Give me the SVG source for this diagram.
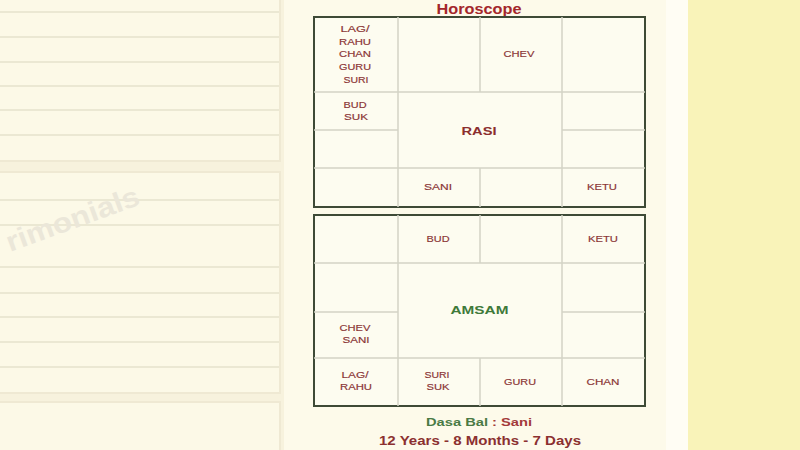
<svg xmlns="http://www.w3.org/2000/svg" width="800" height="450" viewBox="0 0 800 450">
<defs>
<style>
.card{fill:#fcf9e7;stroke:#efe9d3;stroke-width:2}
.row{stroke:#e6e2cd;stroke-width:1.5}
.frame{fill:#fdfcf0;stroke:#3e4a36;stroke-width:2}
.grid{stroke:#d3d3c6;stroke-width:1.5;fill:none}
.pl{font-family:"Liberation Sans",Arial,sans-serif;font-size:8.5px;fill:#8a3434;text-anchor:middle;stroke:#8a3434;stroke-width:0.15}
.big{font-family:"Liberation Sans",Arial,sans-serif;font-size:11px;font-weight:bold;text-anchor:middle}
.title{font-family:"Liberation Sans",Arial,sans-serif;font-size:15px;font-weight:bold;fill:#a3262b;text-anchor:middle}
.wm{font-family:"Liberation Sans",Arial,sans-serif;font-size:28px;font-weight:bold;fill:#ebe7d9}
</style>
</defs>
<rect x="0" y="0" width="800" height="450" fill="#fdfaea"/>
<rect x="666" y="0" width="24" height="450" fill="#fffdf4"/>
<rect x="688" y="0" width="112" height="450" fill="#f9f3b9"/>
<rect x="0" y="0" width="284" height="450" fill="#f7f2dd"/>

<g id="card1">
<rect class="card" x="-5" y="-5" width="285" height="166"/>
<line class="row" x1="0" y1="12" x2="279" y2="12"/>
<line class="row" x1="0" y1="37" x2="279" y2="37"/>
<line class="row" x1="0" y1="62" x2="279" y2="62"/>
<line class="row" x1="0" y1="86" x2="279" y2="86"/>
<line class="row" x1="0" y1="110" x2="279" y2="110"/>
<line class="row" x1="0" y1="135" x2="279" y2="135"/>
</g>
<g id="card2">
<rect class="card" x="-5" y="172" width="285" height="221"/>
<line class="row" x1="0" y1="200" x2="279" y2="200"/>
<line class="row" x1="0" y1="225" x2="279" y2="225"/>
<line class="row" x1="0" y1="267" x2="279" y2="267"/>
<line class="row" x1="0" y1="293" x2="279" y2="293"/>
<line class="row" x1="0" y1="317" x2="279" y2="317"/>
<line class="row" x1="0" y1="342" x2="279" y2="342"/>
<line class="row" x1="0" y1="367" x2="279" y2="367"/>
<text class="wm" x="10" y="252" transform="rotate(-20 10 252)" textLength="140" lengthAdjust="spacingAndGlyphs">rimonials</text>
</g>
<g id="card3">
<rect class="card" x="-5" y="402" width="285" height="60"/>
</g>

<text id="title" class="title" x="479" y="13.5" textLength="85" lengthAdjust="spacingAndGlyphs">Horoscope</text>

<g id="rasi">
<rect class="frame" x="314" y="17" width="331" height="190"/>
<g class="grid">
<line x1="398" y1="17" x2="398" y2="207"/>
<line x1="562" y1="17" x2="562" y2="207"/>
<line x1="480" y1="17" x2="480" y2="92"/>
<line x1="480" y1="168" x2="480" y2="207"/>
<line x1="314" y1="92" x2="645" y2="92"/>
<line x1="314" y1="168" x2="645" y2="168"/>
<line x1="314" y1="130" x2="398" y2="130"/>
<line x1="562" y1="130" x2="645" y2="130"/>
</g>
<text class="pl" x="355" y="32" textLength="29" lengthAdjust="spacingAndGlyphs">LAG/</text>
<text class="pl" x="355" y="45" textLength="32" lengthAdjust="spacingAndGlyphs">RAHU</text>
<text class="pl" x="355" y="57" textLength="32" lengthAdjust="spacingAndGlyphs">CHAN</text>
<text class="pl" x="355" y="70" textLength="32" lengthAdjust="spacingAndGlyphs">GURU</text>
<text class="pl" x="356" y="83" textLength="25" lengthAdjust="spacingAndGlyphs">SURI</text>
<text class="pl" x="355" y="108" textLength="23" lengthAdjust="spacingAndGlyphs">BUD</text>
<text class="pl" x="356" y="120" textLength="24" lengthAdjust="spacingAndGlyphs">SUK</text>
<text class="pl" x="519" y="57" textLength="31" lengthAdjust="spacingAndGlyphs">CHEV</text>
<text class="big" x="479" y="135" fill="#8b2e2e" textLength="35" lengthAdjust="spacingAndGlyphs">RASI</text>
<text class="pl" x="438" y="190" textLength="28" lengthAdjust="spacingAndGlyphs">SANI</text>
<text class="pl" x="602" y="190" textLength="30" lengthAdjust="spacingAndGlyphs">KETU</text>
</g>

<g id="amsam">
<rect class="frame" x="314" y="215" width="331" height="191"/>
<g class="grid">
<line x1="398" y1="215" x2="398" y2="406"/>
<line x1="562" y1="215" x2="562" y2="406"/>
<line x1="480" y1="215" x2="480" y2="263"/>
<line x1="480" y1="358" x2="480" y2="406"/>
<line x1="314" y1="263" x2="645" y2="263"/>
<line x1="314" y1="358" x2="645" y2="358"/>
<line x1="314" y1="312" x2="398" y2="312"/>
<line x1="562" y1="312" x2="645" y2="312"/>
</g>
<text class="pl" x="438" y="242" textLength="23" lengthAdjust="spacingAndGlyphs">BUD</text>
<text class="pl" x="603" y="242" textLength="30" lengthAdjust="spacingAndGlyphs">KETU</text>
<text class="big" x="479.5" y="314" fill="#3f7a3a" textLength="58" lengthAdjust="spacingAndGlyphs">AMSAM</text>
<text class="pl" x="355" y="331" textLength="31" lengthAdjust="spacingAndGlyphs">CHEV</text>
<text class="pl" x="356" y="343" textLength="27" lengthAdjust="spacingAndGlyphs">SANI</text>
<text class="pl" x="355" y="378" textLength="27" lengthAdjust="spacingAndGlyphs">LAG/</text>
<text class="pl" x="356" y="390" textLength="32" lengthAdjust="spacingAndGlyphs">RAHU</text>
<text class="pl" x="437" y="378" textLength="25" lengthAdjust="spacingAndGlyphs">SURI</text>
<text class="pl" x="438" y="390" textLength="23" lengthAdjust="spacingAndGlyphs">SUK</text>
<text class="pl" x="520" y="385" textLength="32" lengthAdjust="spacingAndGlyphs">GURU</text>
<text class="pl" x="603" y="385" textLength="33" lengthAdjust="spacingAndGlyphs">CHAN</text>
</g>

<g id="dasa">
<text class="big" x="479" y="426" textLength="106" lengthAdjust="spacingAndGlyphs"><tspan fill="#4a7a45">Dasa Bal </tspan><tspan fill="#a33a3a">: Sani</tspan></text>
<text class="big" x="480" y="444.5" fill="#8b3030" style="font-size:12px" textLength="202" lengthAdjust="spacingAndGlyphs">12 Years - 8 Months - 7 Days</text>
</g>
</svg>
